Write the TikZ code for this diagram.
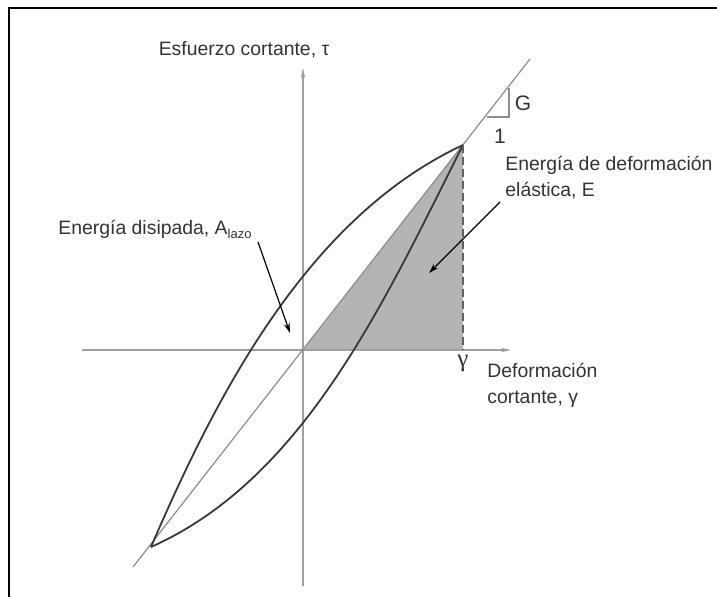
\documentclass[tikz,border=0pt]{standalone}
\usepackage{fontspec}
\setmainfont{Liberation Sans}
\newfontfamily\symfont{Liberation Serif}
\usetikzlibrary{arrows.meta}
\definecolor{axisgray}{HTML}{A0A0A0}
\definecolor{diaggray}{HTML}{8C8C8C}
\definecolor{loopgray}{HTML}{383838}
\definecolor{fillgray}{HTML}{B4B4B4}
\definecolor{textgray}{HTML}{333333}

\begin{document}
\begin{tikzpicture}[
  x=0.5pt, y=-0.5pt,
  font=\fontsize{9.7}{13}\selectfont,
  axis/.style={draw=axisgray, line width=0.6pt, -{Stealth[length=5pt, width=2.2pt]}},
  diag/.style={draw=diaggray, line width=0.6pt},
  loopline/.style={draw=loopgray, line width=0.9pt},
  arr/.style={-{Stealth[length=5pt, width=3pt]}, line width=0.6pt, draw=black},
  lbl/.style={text=textgray, inner sep=0pt, align=left}
]
\useasboundingbox (0,0) rectangle (717,597);
\draw[line width=1.1pt] (717,8) -- (9,8) -- (9,597);

% key points of the loop
\coordinate (O) at (303,350);
\coordinate (P) at (463,145);
\coordinate (B) at (151,547);
\coordinate (Q) at (463,350);

% stored elastic energy
\fill[fillgray] (O) -- (P) -- (Q) -- cycle;

% axes
\coordinate (xstart) at (82,350);
\coordinate (xend) at (511,350);
\coordinate (ystart) at (303,586);
\coordinate (yend) at (303,68);
\draw[axis] (xstart) -- (xend);
\draw[axis] (ystart) -- (yend);

% secant modulus line
\coordinate (dlow) at (133,567);
\coordinate (dhigh) at (530,59);
\draw[diag] (dlow) -- (dhigh);

% slope triangle
\coordinate (g1) at (487,117);
\coordinate (g2) at (509,117);
\coordinate (g3) at (509,88);
\draw[diag] (g1) -- (g2) -- (g3);
\node[lbl, font=\fontsize{10.5}{12}\selectfont] (glab) at (523,103) {G};
\node[lbl, font=\fontsize{10.5}{12}\selectfont] (onelab) at (500,136) {1};

% hysteresis loop
\draw[loopline] (B) .. controls (218,391) and (309,217) .. (P);
\draw[loopline] (P) .. controls (386,297) and (306,478) .. (B);
\draw[dashed, dash pattern=on 4pt off 2pt, draw=loopgray!80, line width=0.8pt] (P) -- (Q);

% labels
\node[lbl] (tau) at (244,50) {Esfuerzo cortante, τ};
\node[lbl, anchor=west] (elab) at (505,178) {Energía de deformación\\elástica, E};
\node[lbl, anchor=west] (alab) at (58,229) {Energía disipada, A\raisebox{-2pt}{\fontsize{6.5}{7}\selectfont lazo}};
\node[lbl] (gam) at (463,363) {\symfont\fontsize{12.5}{13}\selectfont γ};
\node[lbl, anchor=west] (dlab) at (487,385) {Deformación\\cortante, γ};

% pointers
\coordinate (atail) at (258,242);
\coordinate (ahead) at (290,333);
\draw[arr] (atail) -- (ahead);
\coordinate (etail) at (500,202);
\coordinate (ehead) at (429,273);
\draw[arr] (etail) -- (ehead);
\end{tikzpicture}
\end{document}
